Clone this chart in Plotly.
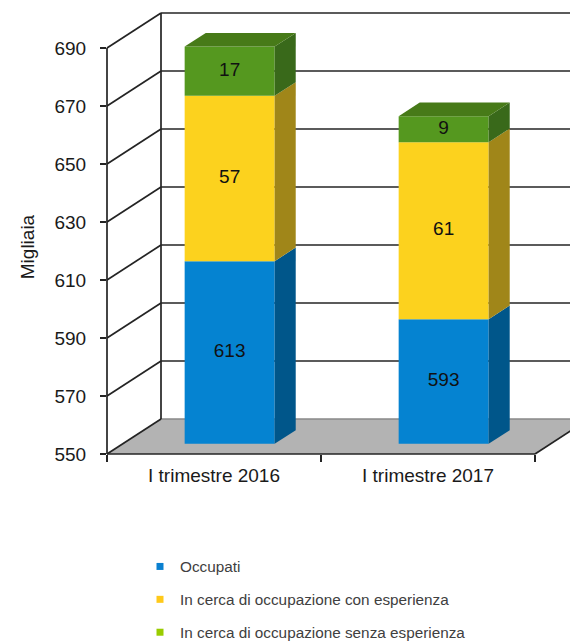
import plotly.graph_objects as go

# ---------------- data ----------------
categories = ["I trimestre 2016", "I trimestre 2017"]
occupati = [613, 593]
con_esperienza = [57, 61]
senza_esperienza = [17, 9]
series_names = ["Occupati",
                "In cerca di occupazione con esperienza",
                "In cerca di occupazione senza esperienza"]
y_ticks = [550, 570, 590, 610, 630, 650, 670, 690]
y_title = "Migliaia"

# ---------------- styles ----------------
front_colors = ["#0583D1", "#FCD21E", "#55981F"]
side_colors = ["#00568A", "#A08619", "#39691A"]
top_colors = ["#0A6AAA", "#C8A71C", "#477A18"]
legend_colors = ["#0A80D0", "#FFC91A", "#99CC00"]
LINE_COLOR = "#242424"
LINE_W = 1.7
FONT = "Arial, Liberation Sans, sans-serif"

W, H = 570, 642
X0_PX = 107          # front left axis (px)
CAT_PX = 214         # px per category band
Y0_PX = 454          # px of the floor (min value) on the front plane
PX_PER_UNIT = 2.9    # px per value unit
VMIN = y_ticks[0]
VMAX = y_ticks[-1]
DEPTH_X_PX, DEPTH_Y_PX = 54, 35
DX = DEPTH_X_PX / CAT_PX
DV = DEPTH_Y_PX / PX_PER_UNIT
F1, F2 = 0.29, 0.68   # depth fractions of bar front / back
HALF_W = 45 / CAT_PX
YAX_TOP_PX = 40

x_lo, x_hi = -0.5, len(categories) - 0.5
full_x_range = [(0 - X0_PX) / CAT_PX - 0.5, (W - X0_PX) / CAT_PX - 0.5]
full_y_range = [VMIN + (Y0_PX - H) / PX_PER_UNIT, VMIN + Y0_PX / PX_PER_UNIT]

fig = go.Figure()

# invisible trace so that the main (tick) axes are drawn
fig.add_trace(go.Scatter(x=[0], y=[VMIN], mode="markers", opacity=0,
                         hoverinfo="skip", showlegend=False))

def poly(xs, ys, color):
    fig.add_trace(go.Scatter(
        x=list(xs) + [xs[0]], y=list(ys) + [ys[0]], mode="lines",
        fill="toself", fillcolor=color, line=dict(width=0, color=color),
        hoverinfo="skip", showlegend=False, xaxis="x2", yaxis="y2"))

def lines(segs, color, width):
    xs, ys = [], []
    for (xa, ya), (xb, yb) in segs:
        xs += [xa, xb, None]
        ys += [ya, yb, None]
    fig.add_trace(go.Scatter(x=xs, y=ys, mode="lines",
                             line=dict(color=color, width=width),
                             hoverinfo="skip", showlegend=False,
                             xaxis="x2", yaxis="y2"))

# floor
poly([x_lo, x_hi, x_hi + DX, x_lo + DX],
     [VMIN, VMIN, VMIN + DV, VMIN + DV], "#B3B3B3")
lines([((x_lo + DX, VMIN + DV), (x_hi + DX, VMIN + DV))], "#888888", 1.6)

# walls / grid
segs = []
for v in y_ticks:
    segs.append(((x_lo, v), (x_lo + DX, v + DV)))
    if v > VMIN:
        segs.append(((x_lo + DX, v + DV), (x_hi + DX + 0.5, v + DV)))
segs.append(((x_lo + DX, VMIN + DV), (x_lo + DX, VMAX + DV)))
segs.append(((x_lo, VMIN), (x_lo, VMAX)))
segs.append(((x_lo, VMIN), (x_hi, VMIN)))
segs.append(((x_hi, VMIN), (x_hi + DX, VMIN + DV)))
lines(segs, LINE_COLOR, LINE_W)

# bars
stacks = [occupati, con_esperienza, senza_esperienza]
for i in range(len(categories)):
    base = VMIN
    n = len(stacks)
    for s in range(n):
        val = stacks[s][i]
        b = base
        t = val if s == 0 else base + val
        xl = i - HALF_W
        xr = i + HALF_W
        poly([xl + F1 * DX, xr + F1 * DX, xr + F1 * DX, xl + F1 * DX],
             [b + F1 * DV, b + F1 * DV, t + F1 * DV, t + F1 * DV],
             front_colors[s])
        poly([xr + F1 * DX, xr + F2 * DX, xr + F2 * DX, xr + F1 * DX],
             [b + F1 * DV, b + F2 * DV, t + F2 * DV, t + F1 * DV],
             side_colors[s])
        if s == n - 1:
            poly([xl + F1 * DX, xr + F1 * DX, xr + F2 * DX, xl + F2 * DX],
                 [t + F1 * DV, t + F1 * DV, t + F2 * DV, t + F2 * DV],
                 top_colors[s])
        fig.add_trace(go.Scatter(
            x=[i + F1 * DX], y=[(b + t) / 2 + F1 * DV], mode="text",
            text=[str(val)], textfont=dict(family=FONT, size=19, color="#111111"),
            hoverinfo="skip", showlegend=False, xaxis="x2", yaxis="y2"))
        base = t

# legend entries
for s, name in enumerate(series_names):
    fig.add_trace(go.Scatter(
        x=[None], y=[None], mode="markers", name=name,
        marker=dict(symbol="square", size=7, color=legend_colors[s]),
        legendgroup=f"g{s}", xaxis="x2", yaxis="y2"))

fig.update_layout(
    width=W, height=H,
    margin=dict(l=0, r=0, t=0, b=0, autoexpand=False),
    paper_bgcolor="white", plot_bgcolor="rgba(0,0,0,0)",
    font=dict(family=FONT, color="#1A1A1A"),
    xaxis=dict(domain=[X0_PX / W, 1], range=[x_lo, full_x_range[1]],
               tickmode="array", tickvals=list(range(len(categories))),
               ticktext=categories, ticks="", showgrid=False, zeroline=False,
               showline=False, tickfont=dict(size=19, color="#1A1A1A"),
               ticklabelstandoff=8,
               minor=dict(tickmode="array",
                          tickvals=[k - 0.5 for k in range(len(categories) + 1)],
                          ticks="outside", ticklen=7, tickwidth=LINE_W,
                          tickcolor=LINE_COLOR, showgrid=False),
               fixedrange=True),
    yaxis=dict(domain=[(H - Y0_PX) / H, (H - YAX_TOP_PX) / H],
               range=[VMIN, VMIN + (Y0_PX - YAX_TOP_PX) / PX_PER_UNIT],
               tickmode="array", tickvals=y_ticks, ticks="outside",
               ticklen=6, tickwidth=LINE_W, tickcolor=LINE_COLOR,
               showgrid=False, zeroline=False, showline=False,
               tickfont=dict(size=19, color="#1A1A1A"),
               ticklabelstandoff=10,
               title=dict(text=y_title, font=dict(size=19, color="#1A1A1A"),
                          standoff=14),
               fixedrange=True),
    xaxis2=dict(domain=[0, 1], range=full_x_range, visible=False,
                anchor="y2", fixedrange=True),
    yaxis2=dict(domain=[0, 1], range=full_y_range, visible=False,
                anchor="x2", fixedrange=True),
    legend=dict(x=(180 - 40) / W, xanchor="left", y=1 - 550 / H, yanchor="top",
                orientation="v", font=dict(size=15.3, color="#404040"),
                bgcolor="rgba(0,0,0,0)", tracegroupgap=10),
    showlegend=True,
)

fig.write_html(
    "out.html",
    config={"displayModeBar": False},
    post_script="document.body.style.margin='0';document.body.style.overflow='hidden';",
)
